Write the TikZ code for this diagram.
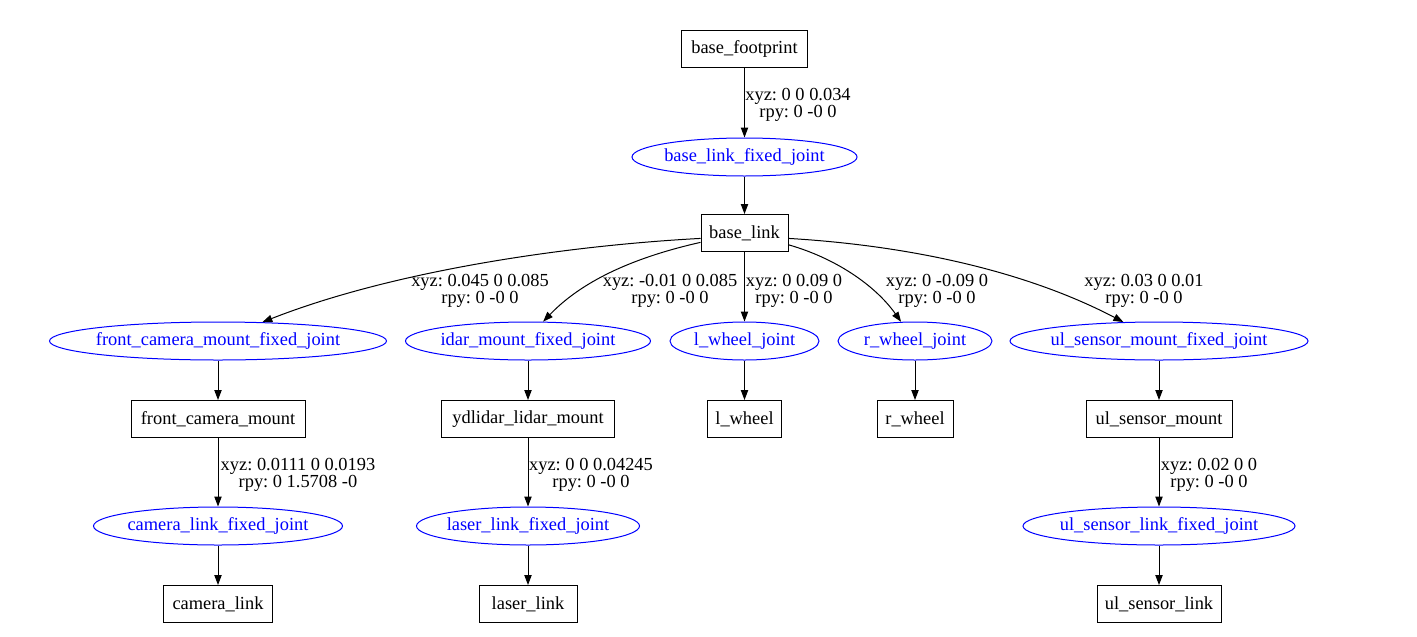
\documentclass[tikz,border=0pt]{standalone}
\usepackage{fontspec}
\setmainfont{Liberation Serif}
\usetikzlibrary{arrows.meta,shapes.geometric}

\begin{document}
\frenchspacing
\begin{tikzpicture}[x=0.75pt, y=-0.75pt, line width=0.75pt,
    >={Triangle[length=7.5pt,width=5.5pt]},
    every node/.style={font=\fontsize{13.8}{12.6}\selectfont},
    link/.style={draw, minimum height=27.75pt, inner sep=0pt},
    joint/.style={draw=blue, text=blue, ellipse, minimum height=28.5pt, inner ysep=0pt, inner xsep=-2.5pt},
    tf/.style={align=center, inner sep=0pt}]

    \useasboundingbox (0,0) rectangle (1417,636);

    \node[link, minimum width=94.5pt] (a) at (744.5, 49) {base\_footprint};
    \node[joint, minimum width=168.75pt] (b) at (744.5, 157) {base\_link\_fixed\_joint};
    \node[link, minimum width=65.25pt] (c) at (744.5, 233) {base\_link};

    \node[joint, minimum width=252.75pt] (d) at (218, 341) {front\_camera\_mount\_fixed\_joint};
    \node[joint, minimum width=183.75pt] (e) at (528, 341) {idar\_mount\_fixed\_joint};
    \node[joint, minimum width=111.75pt] (f) at (744.5, 341) {l\_wheel\_joint};
    \node[joint, minimum width=115.5pt] (g) at (915, 341) {r\_wheel\_joint};
    \node[joint, minimum width=223.5pt] (h) at (1159, 341) {ul\_sensor\_mount\_fixed\_joint};

    \node[link, minimum width=130.5pt] (i) at (218, 419) {front\_camera\_mount};
    \node[link, minimum width=129.75pt] (j) at (528, 419) {ydlidar\_lidar\_mount};
    \node[link, minimum width=55.5pt] (k) at (744.5, 419) {l\_wheel};
    \node[link, minimum width=57pt] (l) at (915, 419) {r\_wheel};
    \node[link, minimum width=109.5pt] (m) at (1159, 419) {ul\_sensor\_mount};

    \node[joint, minimum width=186.75pt] (n) at (218, 526) {camera\_link\_fixed\_joint};
    \node[joint, minimum width=167.25pt] (o) at (528, 526) {laser\_link\_fixed\_joint};
    \node[joint, minimum width=204pt] (p) at (1159, 526) {ul\_sensor\_link\_fixed\_joint};

    \node[link, minimum width=81.75pt] (q) at (218, 604) {camera\_link};
    \node[link, minimum width=73.5pt] (r) at (528, 604) {laser\_link};
    \node[link, minimum width=93pt] (s) at (1159, 604) {ul\_sensor\_link};

    \node[tf] (t1) at (798, 105) {xyz: 0 0 0.034\\rpy: 0 -0 0};
    \node[tf] (t2) at (480, 291) {xyz: 0.045 0 0.085\\rpy: 0 -0 0};
    \node[tf] (t3) at (670, 291) {xyz: -0.01 0 0.085\\rpy: 0 -0 0};
    \node[tf] (t4) at (794, 291) {xyz: 0 0.09 0\\rpy: 0 -0 0};
    \node[tf] (t5) at (937, 291) {xyz: 0 -0.09 0\\rpy: 0 -0 0};
    \node[tf] (t6) at (1144, 291) {xyz: 0.03 0 0.01\\rpy: 0 -0 0};
    \node[tf] (t7) at (298, 475) {xyz: 0.0111 0 0.0193\\rpy: 0 1.5708 -0};
    \node[tf] (t8) at (591, 475) {xyz: 0 0 0.04245\\rpy: 0 -0 0};
    \node[tf] (t9) at (1209, 475) {xyz: 0.02 0 0\\rpy: 0 -0 0};

    \draw [->] (a) to (b);
    \draw [->] (b) to (c);
    \draw [->] (c.187) .. controls (560, 246) and (390, 272) .. (d.23);
    \draw [->] (c.192) .. controls (640, 256) and (585, 278) .. (e.52);
    \draw [->] (c) to (f);
    \draw [->] (c.-15) .. controls (835, 258) and (875, 285) .. (g.126);
    \draw [->] (c.-7) .. controls (900, 245) and (1020, 268) .. (h.152);
    \draw [->] (d) to (i);
    \draw [->] (e) to (j);
    \draw [->] (f) to (k);
    \draw [->] (g) to (l);
    \draw [->] (h) to (m);
    \draw [->] (i) to (n);
    \draw [->] (j) to (o);
    \draw [->] (m) to (p);
    \draw [->] (n) to (q);
    \draw [->] (o) to (r);
    \draw [->] (p) to (s);

\end{tikzpicture}
\end{document}
